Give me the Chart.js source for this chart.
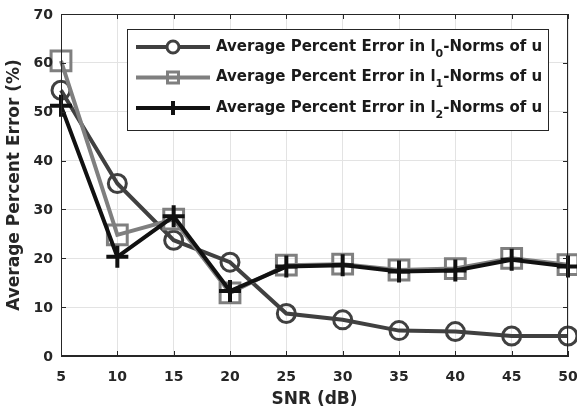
<!DOCTYPE html>
<html lang="en">
<head>
  <meta charset="UTF-8">
  <title>Average Percent Error vs SNR</title>
  <script src="https://cdn.jsdelivr.net/npm/chart.js"></script>
  <style>
    html, body { margin: 0; padding: 0; background: #fff; }
    #wrap { width: 577px; height: 414px; }
  </style>
</head>
<body>
  <div id="wrap"><canvas id="errChart" width="577" height="414"></canvas></div>
  <script>
    const snr = [5, 10, 15, 20, 25, 30, 35, 40, 45, 50];
    const l0Err = [54.4, 35.3, 23.7, 19.2, 8.7, 7.4, 5.2, 5.0, 4.1, 4.1];
    const l1Err = [60.4, 24.8, 28.0, 12.9, 18.6, 18.8, 17.6, 17.9, 20.0, 18.7];
    const l2Err = [51.2, 20.3, 28.6, 13.3, 18.3, 18.6, 17.3, 17.5, 19.7, 18.3];
    const yTicks = [0, 10, 20, 30, 40, 50, 60, 70];
    const legendSubs = ['0', '1', '2'];

    const FONT = "'DejaVu Sans', sans-serif";
    const INK = '#262626';

    function pts(arr) { return arr.map((v, i) => ({ x: snr[i], y: v })); }

    // MATLAB style box, inward ticks and tick labels
    const boxPlugin = {
      id: 'box',
      afterDatasetsDraw(chart) {
        const { ctx, chartArea: a, scales } = chart;
        ctx.save();
        ctx.strokeStyle = INK;
        ctx.lineWidth = 1;
        ctx.strokeRect(a.left + 0.5, a.top + 0.5, a.right - a.left - 1, a.bottom - a.top - 1);
        ctx.beginPath();
        snr.forEach(v => {
          const x = Math.round(scales.x.getPixelForValue(v)) + 0.5;
          ctx.moveTo(x, a.bottom); ctx.lineTo(x, a.bottom - 5);
          ctx.moveTo(x, a.top); ctx.lineTo(x, a.top + 5);
        });
        yTicks.forEach(v => {
          const y = Math.round(scales.y.getPixelForValue(v)) + 0.5;
          ctx.moveTo(a.left, y); ctx.lineTo(a.left + 5, y);
          ctx.moveTo(a.right, y); ctx.lineTo(a.right - 5, y);
        });
        ctx.stroke();

        ctx.fillStyle = INK;
        ctx.font = 'bold 14px ' + FONT;
        ctx.textBaseline = 'middle';
        ctx.textAlign = 'center';
        snr.forEach(v => ctx.fillText(String(v), scales.x.getPixelForValue(v), a.bottom + 21));
        ctx.textAlign = 'right';
        yTicks.forEach(v => ctx.fillText(String(v), a.left - 8, scales.y.getPixelForValue(v) + 1));
        ctx.restore();
      }
    };

    // legend with subscripted norm index
    const legendPlugin = {
      id: 'subLegend',
      afterDraw(chart) {
        const ctx = chart.ctx;
        const bx = 127, by = 29, bw = 421, bh = 101;
        ctx.save();
        ctx.fillStyle = '#fff';
        ctx.fillRect(bx, by, bw, bh);
        ctx.strokeStyle = INK;
        ctx.lineWidth = 1;
        ctx.strokeRect(bx + 0.5, by + 0.5, bw, bh);
        chart.data.datasets.forEach((ds, i) => {
          const y = 47 + i * 30.5;
          ctx.strokeStyle = ds.borderColor;
          ctx.lineWidth = ds.borderWidth;
          ctx.beginPath(); ctx.moveTo(136, y); ctx.lineTo(210, y); ctx.stroke();
          ctx.lineWidth = ds.pointBorderWidth;
          const cx = 173;
          ctx.beginPath();
          if (ds.pointStyle === 'circle') {
            ctx.fillStyle = '#fff';
            ctx.arc(cx, y, 6, 0, Math.PI * 2); ctx.fill(); ctx.stroke();
          } else if (ds.pointStyle === 'rect') {
            ctx.strokeRect(cx - 5.5, y - 5.5, 11, 11);
          } else {
            ctx.moveTo(cx - 7, y); ctx.lineTo(cx + 7, y);
            ctx.moveTo(cx, y - 7); ctx.lineTo(cx, y + 7); ctx.stroke();
          }
          ctx.fillStyle = '#1a1a1a';
          ctx.textBaseline = 'middle';
          ctx.font = 'bold 15px ' + FONT;
          const a = 'Average Percent Error in l';
          let x = 216;
          ctx.fillText(a, x, y);
          x += ctx.measureText(a).width;
          ctx.font = 'bold 11px ' + FONT;
          ctx.fillText(legendSubs[i], x, y + 7);
          x += ctx.measureText(legendSubs[i]).width;
          ctx.font = 'bold 15px ' + FONT;
          ctx.fillText('-Norms of u', x, y);
        });
        ctx.restore();
      }
    };

    new Chart(document.getElementById('errChart'), {
      type: 'line',
      data: {
        datasets: [
          { label: 'l0', data: pts(l0Err), borderColor: '#404040', borderWidth: 4,
            pointStyle: 'circle', pointRadius: 9, pointBorderWidth: 3, clip: false,
            pointBackgroundColor: 'rgba(0,0,0,0)', order: 3 },
          { label: 'l1', data: pts(l1Err), borderColor: '#7f7f7f', borderWidth: 4,
            pointStyle: 'rect', pointRadius: 14, pointBorderWidth: 3, clip: false,
            pointBackgroundColor: 'rgba(0,0,0,0)', order: 2 },
          { label: 'l2', data: pts(l2Err), borderColor: '#111111', borderWidth: 4,
            pointStyle: 'cross', pointRadius: 11, pointBorderWidth: 4, clip: false,
            pointBackgroundColor: 'rgba(0,0,0,0)', order: 1 }
        ]
      },
      options: {
        responsive: false,
        animation: false,
        layout: { autoPadding: false, padding: { top: 14, right: 9, left: 0, bottom: 0 } },
        plugins: { legend: { display: false }, tooltip: { enabled: false } },
        scales: {
          x: {
            type: 'linear', min: 5, max: 50,
            afterBuildTicks: s => { s.ticks = snr.map(v => ({ value: v })); },
            afterFit: s => { s.height = 58; },
            grid: { color: '#e3e3e3', drawTicks: false },
            border: { color: INK },
            ticks: { display: false },
            title: { display: true, text: 'SNR (dB)', color: INK, padding: { top: 2 },
              font: { family: FONT, size: 17, weight: 'bold' } }
          },
          y: {
            min: 0, max: 70,
            afterBuildTicks: s => { s.ticks = yTicks.map(v => ({ value: v })); },
            afterFit: s => { s.width = 61; },
            grid: { color: '#e3e3e3', drawTicks: false },
            border: { color: INK },
            ticks: { display: false },
            title: { display: true, text: 'Average Percent Error (%)', color: INK, padding: { bottom: 1 },
              font: { family: FONT, size: 17, weight: 'bold' } }
          }
        }
      },
      plugins: [boxPlugin, legendPlugin]
    });
  </script>
</body>
</html>
